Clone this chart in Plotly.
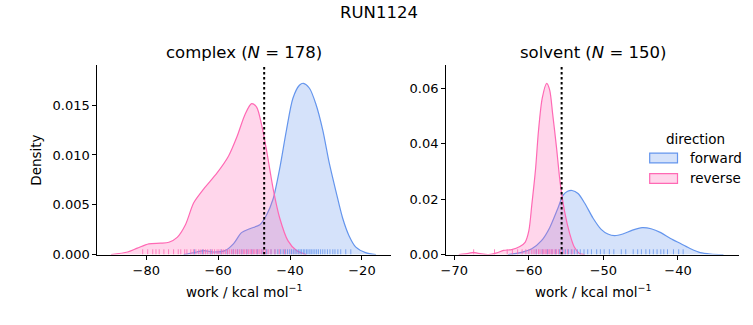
import plotly.graph_objects as go

# ---- KDE curves of the work distributions (work in kcal/mol, density) ----
complex_fwd_work = [-69.6, -65.9, -64.0, -61.3, -58.1, -55.7, -53.5, -51.2, -48.4, -46.5,
                    -44.7, -42.9, -41.0, -39.2, -37.4, -36.3, -34.6, -32.8, -30.9, -29.1,
                    -27.2, -25.4, -23.6, -21.7, -19.0, -16.1]
complex_fwd_density = [0.0, 0.00026, 0.0004, 0.00026, 0.0004, 0.0011, 0.0022, 0.0026, 0.0030, 0.0040,
                       0.0056, 0.0086, 0.0125, 0.0157, 0.0170, 0.0172, 0.0167, 0.0151, 0.0125, 0.0092,
                       0.0063, 0.0037, 0.0019, 0.00075, 0.0002, 0.0]

complex_rev_work = [-89.8, -85.2, -82.5, -79.3, -76.0, -73.7, -71.4, -69.1, -66.8, -64.0,
                    -60.3, -57.1, -54.8, -52.5, -50.7, -49.3, -47.9, -46.5, -44.7, -42.9,
                    -40.6, -38.2, -35.5]
complex_rev_density = [0.0, 0.00026, 0.00065, 0.00108, 0.00114, 0.00124, 0.00173, 0.0030, 0.0052, 0.0066,
                       0.0082, 0.0099, 0.0118, 0.0141, 0.01516, 0.0148, 0.0130, 0.0104, 0.0066, 0.0037,
                       0.0014, 0.0004, 0.0]

solvent_fwd_work = [-62.8, -61.0, -59.6, -58.3, -57.2, -56.1, -55.4, -54.8, -54.2, -53.4,
                    -52.5, -51.4, -50.3, -49.4, -48.5, -47.4, -46.1, -44.8, -43.6, -42.3,
                    -41.0, -39.6, -38.3, -37.0, -35.6, -33.9]
solvent_fwd_density = [0.0, 0.0008, 0.0021, 0.0050, 0.0097, 0.0167, 0.0214, 0.0228, 0.0231, 0.0220,
                       0.0185, 0.0132, 0.0091, 0.0074, 0.0068, 0.0074, 0.0088, 0.0097, 0.0093, 0.0079,
                       0.0058, 0.0039, 0.0021, 0.0007, 0.0002, 0.0]

solvent_rev_work = [-69.4, -68.1, -67.4, -66.8, -65.4, -64.3, -63.4, -62.3, -61.2, -60.5,
                    -60.0, -59.6, -59.1, -58.7, -58.2, -57.6, -57.2, -56.8, -56.3, -55.8,
                    -55.2, -54.5, -53.9, -53.2, -52.5]
solvent_rev_density = [0.0, 0.0004, 0.0008, 0.0004, 0.0, 0.0006, 0.0015, 0.0018, 0.0029, 0.0044,
                       0.0085, 0.0179, 0.0307, 0.0447, 0.0564, 0.0617, 0.0593, 0.0506, 0.0389, 0.0260,
                       0.0155, 0.0074, 0.0027, 0.0004, 0.0]

# ---- individual work values shown as rug ticks ----
complex_fwd_rug = [-66.6, -64.3, -62.0, -59.2, -57.5, -55.8, -54.6, -53.4, -52.0, -50.6,
                   -49.1, -47.8, -46.5, -45.3, -44.2, -43.4, -42.6, -41.9, -41.3, -40.7,
                   -40.1, -39.6, -39.1, -38.6, -38.1, -37.6, -37.2, -36.8, -36.3, -35.9,
                   -35.4, -35.0, -34.5, -34.1, -33.6, -33.1, -32.6, -32.1, -31.5, -30.9,
                   -30.3, -29.6, -28.9, -28.1, -27.5, -26.7, -25.9, -24.5, -23.1]
complex_rev_rug = [-81.0, -79.6, -78.2, -77.3, -76.4, -75.1, -73.8, -72.4, -71.1, -70.4,
                   -69.3, -68.7, -67.6, -66.9, -66.2, -65.4, -64.8, -64.1, -63.5, -62.9,
                   -62.2, -61.6, -61.0, -60.3, -59.8, -59.1, -58.6, -58.0, -57.4, -56.9,
                   -56.3, -55.8, -55.2, -54.7, -54.1, -53.6, -53.0, -52.6, -52.1, -51.6,
                   -51.1, -50.7, -50.2, -49.8, -49.3, -48.9, -48.4, -47.9, -47.4, -46.8,
                   -46.1, -45.3, -44.2, -43.0, -41.5]
solvent_fwd_rug = [-59.0, -58.2, -57.5, -56.9, -56.4, -55.9, -55.5, -55.1, -54.7, -54.3,
                   -53.9, -53.5, -53.1, -52.6, -52.1, -51.6, -50.9, -50.4, -49.9, -49.2,
                   -48.6, -47.6, -47.0, -46.0, -45.4, -44.9, -44.3, -43.8, -43.3, -42.8,
                   -42.3, -41.9, -41.4, -40.6, -39.9, -39.3]
solvent_rev_rug = [-67.4, -64.6, -62.9, -62.2, -61.5, -60.9, -60.4, -60.0, -59.6, -59.3,
                   -59.0, -58.7, -58.5, -58.2, -58.0, -57.8, -57.6, -57.4, -57.2, -57.0,
                   -56.8, -56.5, -56.3, -56.0, -55.7, -55.3, -54.8, -54.2]

# free-energy estimate marked by the dotted line, per phase
work_estimate = [-47.2, -55.6]

phase_titles = ["complex (<i>N</i> = 178)", "solvent (<i>N</i> = 150)"]
x_ticks = [[-80, -60, -40, -20], [-70, -60, -50, -40]]
y_ticks = [[0.0, 0.005, 0.010, 0.015], [0.0, 0.02, 0.04, 0.06]]
directions = ["forward", "reverse"]

# ---- styling ----
FONT = "DejaVu Sans"
W, H = 753, 325
colors = {"forward": (100, 149, 237), "reverse": (255, 105, 180)}
x_ranges = [[-93.6, -11.8], [-71.1, -31.8]]
y_ranges = [[0, 0.0190], [0, 0.0682]]
# plot-area edges in pixels (left, right), shared (top, bottom)
areas = [(93, 389), (444, 739)]
top_px, bottom_px = 67, 261


def rgba(c, a):
    return f"rgba({c[0]},{c[1]},{c[2]},{a})"


def px_x(p):
    return p / W


def px_y(p):
    return 1 - p / H


fig = go.Figure()

panels = [
    ((complex_fwd_work, complex_fwd_density, complex_fwd_rug),
     (complex_rev_work, complex_rev_density, complex_rev_rug)),
    ((solvent_fwd_work, solvent_fwd_density, solvent_fwd_rug),
     (solvent_rev_work, solvent_rev_density, solvent_rev_rug)),
]

for i, series in enumerate(panels):
    xa = "x" if i == 0 else "x2"
    ya = "y" if i == 0 else "y2"
    rug_h = 0.028 * y_ranges[i][1]
    for name, (wx, dens, rug) in zip(directions, series):
        c = colors[name]
        fig.add_trace(go.Scatter(
            x=wx, y=dens, mode="lines", xaxis=xa, yaxis=ya,
            line=dict(color=rgba(c, 1.0), width=1.2, shape="spline", smoothing=0.8),
            fill="tozeroy", fillcolor=rgba(c, 0.27), showlegend=False, hoverinfo="skip"))
    for name, (wx, dens, rug) in zip(directions, series):
        c = colors[name]
        rx, ry = [], []
        for v in rug:
            rx += [v, v, None]
            ry += [0, rug_h, None]
        fig.add_trace(go.Scatter(
            x=rx, y=ry, mode="lines", xaxis=xa, yaxis=ya,
            line=dict(color=rgba(c, 0.8), width=1), showlegend=False, hoverinfo="skip"))
    # dotted estimate line
    fig.add_trace(go.Scatter(
        x=[work_estimate[i], work_estimate[i]], y=[0, y_ranges[i][1]], mode="lines",
        xaxis=xa, yaxis=ya, line=dict(color="black", width=2, dash="2.5px,2.5px"),
        showlegend=False, hoverinfo="skip"))

axis_common = dict(showline=True, linecolor="black", linewidth=1, ticks="outside",
                   ticklen=4, tickwidth=1, tickcolor="black", showgrid=False,
                   zeroline=False, tickfont=dict(family=FONT, size=13, color="black"))

layout = dict(
    width=W, height=H, margin=dict(l=0, r=0, t=0, b=0),
    paper_bgcolor="white", plot_bgcolor="white", showlegend=False,
    font=dict(family=FONT, color="black"),
)
for i in range(2):
    sx = "" if i == 0 else "2"
    layout["xaxis" + sx] = dict(
        axis_common, domain=[px_x(areas[i][0]), px_x(areas[i][1])],
        range=x_ranges[i], tickvals=x_ticks[i], anchor="y" + sx)
    layout["yaxis" + sx] = dict(
        axis_common, domain=[px_y(bottom_px), px_y(top_px)],
        range=y_ranges[i], tickvals=y_ticks[i], anchor="x" + sx,
        tickformat=".3f" if i == 0 else ".2f")
fig.update_layout(**layout)

ann = []
ann.append(dict(text="RUN1124", x=px_x(377), y=px_y(13), font=dict(size=16.5)))
for i in range(2):
    cx = (areas[i][0] + areas[i][1]) / 2
    ann.append(dict(text=phase_titles[i], x=px_x(cx), y=px_y(54), font=dict(size=16.5)))
    ann.append(dict(text="work / kcal mol<sup>−1</sup>", x=px_x(cx), y=px_y(298),
                    font=dict(size=13.5)))
ann.append(dict(text="Density", x=px_x(31), y=px_y((top_px + bottom_px) / 2),
                textangle=-90, font=dict(size=13.5)))

# legend drawn in the right panel
ann.append(dict(text="direction", x=px_x(695), y=px_y(142), font=dict(size=13.5)))
shapes = []
for k, name in enumerate(directions):
    c = colors[name]
    y0 = 157 + k * 21
    shapes.append(dict(type="rect", xref="paper", yref="paper",
                       x0=px_x(649), x1=px_x(677), y0=px_y(y0 + 10), y1=px_y(y0),
                       fillcolor=rgba(c, 0.27), line=dict(color=rgba(c, 1.0), width=1.2)))
    ann.append(dict(text=name, x=px_x(688), y=px_y(y0 + 5), xanchor="left",
                    font=dict(size=13.5)))

for a in ann:
    a.setdefault("xanchor", "center")
    a.update(xref="paper", yref="paper", yanchor="middle", showarrow=False)
    a["font"] = dict(family=FONT, color="black", **a["font"])

fig.update_layout(annotations=ann, shapes=shapes)
fig.write_html("out.html")
